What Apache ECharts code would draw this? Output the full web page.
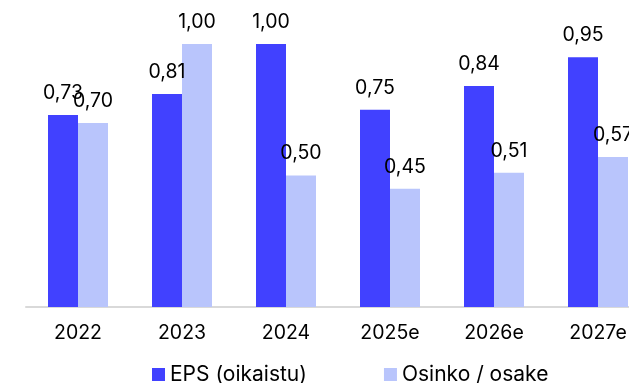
<!DOCTYPE html>
<html>
<head>
<meta charset="utf-8">
<script src="https://cdn.jsdelivr.net/npm/echarts@6/dist/echarts.min.js"></script>
<style>
html,body{margin:0;padding:0;background:#fff;}
#chart{width:629px;height:383px;}
</style>
</head>
<body>
<div id="chart"></div>
<script>
const categories = ['2022', '2023', '2024', '2025e', '2026e', '2027e'];
const epsValues = [0.73, 0.81, 1.00, 0.75, 0.84, 0.95];
const dividendValues = [0.70, 1.00, 0.50, 0.45, 0.51, 0.57];
const seriesNames = ['EPS (oikaistu)', 'Osinko / osake'];

const FONT = 'Inter';
const fmt = p => p.value.toFixed(2).replace('.', ',');
const chart = echarts.init(document.getElementById('chart'), null, {renderer: 'canvas'});
chart.setOption({
  animation: false,
  backgroundColor: '#ffffff',
  grid: {left: 26, top: 44, width: 624, bottom: 76, containLabel: false, outerBoundsMode: 'none'},
  legend: {
    left: 152, top: 364, padding: 0,
    itemWidth: 13, itemHeight: 13, itemGap: 77,
    icon: 'rect',
    textStyle: {fontFamily: FONT, fontSize: 21, color: '#000'},
    data: seriesNames
  },
  xAxis: {
    type: 'category',
    data: categories,
    axisLine: {lineStyle: {color: '#d9d9d9', width: 2}},
    axisTick: {show: false},
    axisLabel: {fontFamily: FONT, fontSize: 19.5, color: '#000', margin: 16}
  },
  yAxis: {type: 'value', min: 0, max: 1, show: false},
  series: [
    {
      name: seriesNames[0], type: 'bar', data: epsValues,
      barWidth: 30, barGap: '0%',
      itemStyle: {color: '#4141ff'},
      label: {show: true, position: 'top', distance: 12, formatter: fmt,
        fontFamily: FONT, fontSize: 19.5, color: '#000'}
    },
    {
      name: seriesNames[1], type: 'bar', data: dividendValues,
      barWidth: 30, barGap: '0%',
      itemStyle: {color: '#b9c5fc'},
      label: {show: true, position: 'top', distance: 12, formatter: fmt,
        fontFamily: FONT, fontSize: 19.5, color: '#000'}
    }
  ]
});
</script>
</body>
</html>
